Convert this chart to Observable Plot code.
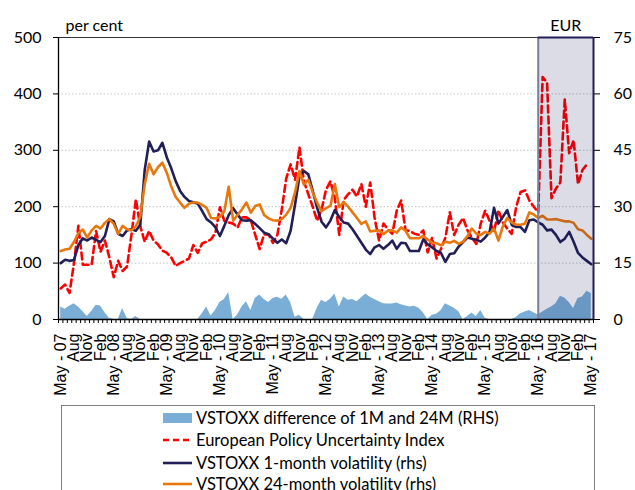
<!DOCTYPE html>
<html><head><meta charset="utf-8">
<script src="https://cdn.jsdelivr.net/npm/d3@7"></script>
<script src="https://cdn.jsdelivr.net/npm/@observablehq/plot@0.6"></script>
<style>
body{margin:0;background:#fff;overflow:hidden;}
#wrap{position:relative;width:635px;height:490px;overflow:hidden;background:#fff;}
#chart{position:absolute;left:0;top:0;}
#legend{position:absolute;left:61px;top:405px;width:532px;height:120px;border:1.5px solid #808080;border-bottom:none;font-family:Lato,sans-serif;font-size:16.5px;color:#000;}
.row{position:absolute;left:101px;height:22px;display:flex;align-items:center;white-space:nowrap;}
.row svg{margin-right:4px;}
</style></head>
<body>
<div id="wrap"><div id="chart"></div><div id="legend"></div></div>
<script>
// ---- data (monthly, May 2007 – May 2017) ----
const firstMonth = "2007-05";
const lastMonth = "2017-05";
const shadeFrom = "2016-05";

// European Policy Uncertainty Index (left axis)
const epu = [55,62,47,100,166,97,97,97,157,120,140,110,75,104,86,94,150,213,165,138,
  157,140,133,122,118,110,95,100,104,108,132,118,135,138,142,154,199,175,172,170,
  163,181,181,176,150,125,151,151,136,150,195,250,275,248,305,245,222,200,175,195,
  230,245,215,150,212,222,230,218,240,200,243,180,140,170,160,152,193,211,158,157,
  152,150,158,119,145,108,125,145,190,150,168,180,158,145,134,170,193,175,155,194,
  172,161,152,199,226,229,211,200,190,430,420,215,232,243,390,295,318,240,265,275];

// VSTOXX 1-month volatility (rhs, per cent)
const vol1m = [15.0,15.9,15.6,15.8,19.8,21.6,21.0,21.8,21.2,20.6,22.2,26.7,26.1,22.8,22.2,23.7,24.0,23.6,25.2,39.8,
  47.3,44.7,45.0,47.0,43.1,40.2,36.8,34.2,32.6,31.5,31.2,30.8,28.8,26.7,25.8,24.5,22.2,24.9,27.8,29.6,
  27.9,26.4,26.3,26.4,25.4,24.3,23.1,22.7,21.5,20.4,21.3,20.3,23.6,30.6,38.1,39.5,38.6,34.2,29.7,26.0,
  24.5,26.3,29.1,27.2,25.8,25.5,24.0,22.2,20.4,18.6,17.4,19.2,19.8,18.8,19.8,21.0,18.8,20.4,20.3,18.2,
  18.2,18.2,21.3,20.0,19.2,18.2,17.7,15.3,17.4,17.6,19.4,20.6,21.8,21.5,21.2,20.7,21.8,23.3,29.7,25.5,
  27.3,29.1,25.2,24.6,24.6,23.3,26.4,26.6,25.8,25.2,23.7,23.9,22.5,20.6,21.5,23.3,20.7,17.7,16.5,15.6,14.7];

// VSTOXX 24-month volatility (rhs, per cent)
const vol24m = [18.2,18.6,18.8,20.6,23.0,23.9,21.8,23.7,24.9,24.2,25.7,26.7,25.4,22.8,24.9,24.0,23.7,24.8,27.3,36.0,
  41.4,38.6,40.5,41.7,39.0,35.4,32.6,31.1,29.7,30.8,31.1,31.1,30.5,29.7,27.0,26.9,27.3,28.8,35.3,26.3,
  27.8,29.3,31.1,28.4,30.2,30.6,27.8,26.9,26.4,26.3,26.7,27.9,29.7,33.8,39.5,35.9,37.2,33.8,31.1,28.8,
  29.6,30.2,36.0,29.9,31.2,30.0,28.5,27.0,25.4,26.1,23.4,23.6,23.7,22.7,23.6,23.7,23.1,24.5,23.6,21.6,
  21.6,21.6,22.2,21.3,20.4,20.3,19.7,20.7,20.4,20.9,20.1,20.7,22.2,24.2,22.8,22.5,23.3,22.8,24.2,21.0,
  24.8,27.0,25.8,25.2,25.2,25.5,28.5,27.9,27.0,27.6,26.6,26.6,26.7,26.4,26.1,26.1,25.7,24.0,23.7,22.5,21.5];

// VSTOXX difference of 1M and 24M (rhs)
const diff = [3.3,2.7,3.5,4.2,3.3,2.1,0.8,2.1,3.8,3.6,1.8,0.3,0,0,2.9,0.3,0,0.8,0,0,
  0,0,0,0,0,0,0,0,0,0,0,0,1.5,3.3,0.9,2.4,4.5,5.3,7.2,0,
  1.2,3.3,4.7,2.4,5.6,6.5,5.3,4.5,5.6,5.9,5.4,6.5,4.5,0.6,1.1,0,0,0,3.0,5.1,
  4.5,5.4,6.8,3.3,6.0,5.1,5.3,4.7,5.7,6.8,5.9,5.3,4.7,4.2,4.1,4.1,4.4,3.9,3.6,3.3,
  3.5,3.0,1.8,0,1.1,1.4,2.3,4.2,3.6,3.0,2.1,0,0.8,1.7,0.8,2.4,0.3,0,0,0,
  0,0,0,0.5,1.5,2.0,2.4,1.8,1.2,2.0,2.7,3.3,4.2,6.2,5.7,4.5,2.9,5.6,6.0,7.5,6.9];

const xLabels = ["May - 07","Aug","Nov","Feb","May - 08","Aug","Nov","Feb","May - 09","Aug","Nov","Feb",
  "May - 10","Aug","Nov","Feb","May - 11","Aug","Nov","Feb","May - 12","Aug","Nov","Feb",
  "May - 13","Aug","Nov","Feb","May - 14","Aug","Nov","Feb","May - 15","Aug","Nov","Feb",
  "May - 16","Aug","Nov","Feb","May - 17"];
const leftTicks = [0,100,200,300,400,500];
const rightTicks = [0,15,30,45,60,75];

const seriesNames = ["VSTOXX difference of 1M and 24M (RHS)","European Policy Uncertainty Index",
  "VSTOXX 1-month volatility (rhs)","VSTOXX 24-month volatility (rhs)"];

// ---- build ----
const parseM = d3.utcParse("%Y-%m");
const months = d3.utcMonth.range(parseM(firstMonth), d3.utcMonth.offset(parseM(lastMonth), 1));
const idxOf = s => d3.utcMonth.count(parseM(firstMonth), parseM(s));
const n = months.length;
const k = 500 / 75; // rhs -> lhs
const rows = months.map((d, i) => ({i, date: d, epu: epu[i], v1: vol1m[i], v24: vol24m[i], diff: diff[i]}));
const shadeIdx = idxOf(shadeFrom);
const lo = -0.5, hi = n - 0.5;

const C = {area:"#7aaed6", red:"#ff0000", navy:"#221f56", orange:"#e8780e", shade:"#161659"};

const chart = Plot.plot({
  width: 635, height: 400,
  marginLeft: 58, marginRight: 42, marginTop: 37, marginBottom: 81,
  style: {fontFamily: "Lato, sans-serif", fontSize: "16px", color: "#000", background: "#fff"},
  x: {domain: [lo, hi]},
  y: {domain: [0, 500]},
  marks: [
    Plot.ruleY(leftTicks.slice(1, -1), {stroke: "#c4c4c4", strokeDasharray: "1.5,2"}),
    Plot.areaY(rows, {x: "i", y: d => d.diff * k, fill: C.area, curve: "linear"}),
    Plot.lineY(rows.filter(d => d.epu != null), {x: "i", y: "epu", stroke: C.red, strokeWidth: 2.6, strokeDasharray: "7,4"}),
    Plot.lineY(rows, {x: "i", y: d => d.v1 * k, stroke: C.navy, strokeWidth: 2.6}),
    Plot.lineY(rows, {x: "i", y: d => d.v24 * k, stroke: C.orange, strokeWidth: 2.6}),
    Plot.rect([{x1: shadeIdx, x2: hi}], {x1: "x1", x2: "x2", y1: 0, y2: 500, fill: C.shade, fillOpacity: 0.15}),
    Plot.ruleX([shadeIdx], {y1: 0, y2: 500, stroke: "#7e7e9c", strokeWidth: 2}),
    Plot.ruleX([hi], {y1: 0, y2: 500, stroke: C.navy, strokeWidth: 2}),
    Plot.ruleY([500], {x1: shadeIdx, x2: hi, stroke: C.navy, strokeWidth: 2}),
    Plot.ruleY([500], {x1: lo, x2: shadeIdx, stroke: "#333", strokeWidth: 1.2}),
    Plot.ruleX([lo], {y1: 0, y2: 500, stroke: "#000", strokeWidth: 1.3}),
    Plot.ruleY([0], {x1: lo, x2: hi, stroke: "#000", strokeWidth: 1.3}),
    Plot.axisY({ticks: leftTicks, tickSize: 5, tickPadding: 12, fontSize: 16, label: null}),
    Plot.axisY({anchor: "right", ticks: rightTicks.map(t => t * k), tickFormat: t => Math.round(t / k), tickSize: 6, tickPadding: 14, fontSize: 16, label: null}),
    Plot.axisX({ticks: d3.range(lo, hi + 0.01, 1), tickSize: 4, tickFormat: () => "", label: null}),
    Plot.axisX({ticks: xLabels.map((_, j) => j * 3), tickFormat: t => xLabels[t / 3], tickSize: 0, tickPadding: 14, tickRotate: -90, textAnchor: "end", fontFamily: "Liberation Sans, Arial, sans-serif", fontSize: 16, label: null}),
    Plot.text(["per cent"], {frameAnchor: "top-left", textAnchor: "start", lineAnchor: "bottom", dx: 7, dy: -7, fontSize: 16}),
    Plot.text(["EUR"], {x: (shadeIdx + hi) / 2, y: 500, lineAnchor: "bottom", dy: -7, fontSize: 16})
  ]
});
document.getElementById("chart").appendChild(chart);

// ---- legend ----
const leg = document.getElementById("legend");
const sw = [
  `<svg width="29" height="12"><rect x="0" y="1" width="29" height="10" fill="${C.area}"/></svg>`,
  `<svg width="29" height="12"><line x1="0" y1="6" x2="29" y2="6" stroke="${C.red}" stroke-width="2.6" stroke-dasharray="6,4"/></svg>`,
  `<svg width="29" height="12"><line x1="0" y1="6" x2="29" y2="6" stroke="${C.navy}" stroke-width="2.6"/></svg>`,
  `<svg width="29" height="12"><line x1="0" y1="6" x2="29" y2="6" stroke="${C.orange}" stroke-width="2.6"/></svg>`
];
const rowTop = [1, 23, 46, 67];
seriesNames.forEach((name, j) => {
  const r = document.createElement("div");
  r.className = "row";
  r.style.top = rowTop[j] + "px";
  r.innerHTML = sw[j] + `<span>${name}</span>`;
  leg.appendChild(r);
});
</script>
</body></html>
